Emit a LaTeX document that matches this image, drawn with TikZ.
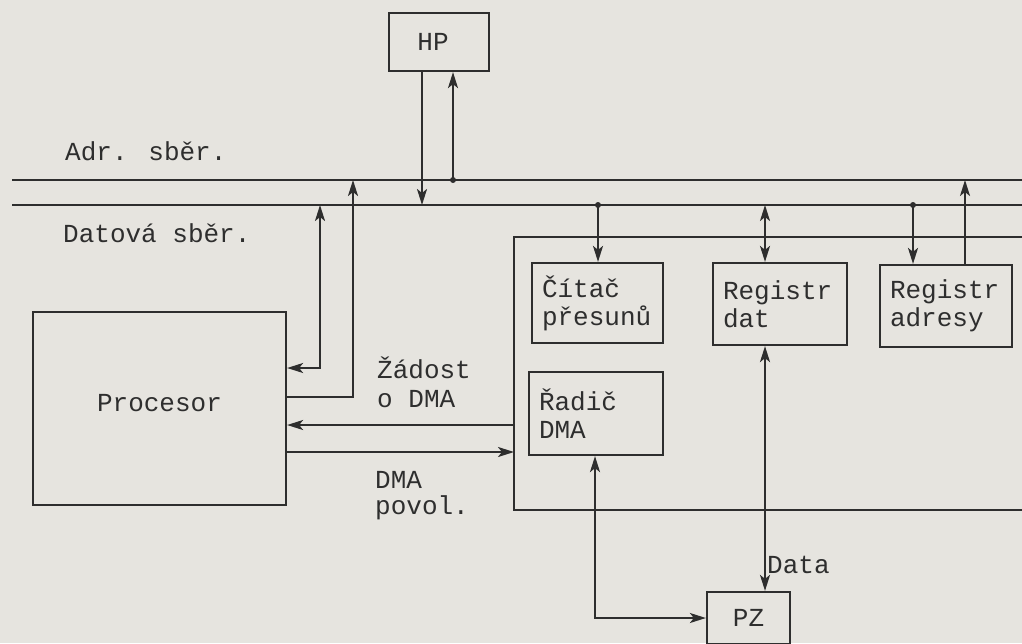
\documentclass[tikz,border=0pt]{standalone}
\usepackage{fontspec}
\setmainfont{Liberation Mono}
\usetikzlibrary{arrows.meta}
\definecolor{ink}{HTML}{2E2E2E}
\definecolor{paper}{HTML}{E6E4DF}
\begin{document}
\begin{tikzpicture}[x=1pt,y=-1pt,
  every node/.style={font=\fontsize{26}{28}\selectfont, text=ink},
  blk/.style={draw=ink, line width=2.2pt, align=left, inner xsep=10pt, inner ysep=0pt},
  wire/.style={draw=ink, line width=2.2pt},
  tip/.style={},
  arr/.style={wire, -{Stealth[length=16pt,width=10pt,inset=4pt]}},
  arrb/.style={wire, {Stealth[length=16pt,width=10pt,inset=4pt]}-{Stealth[length=16pt,width=10pt,inset=4pt]}},
  lbl/.style={anchor=base west, inner sep=0pt}
]
\fill[paper] (0,0) rectangle (1022,643);
\useasboundingbox (0,0) rectangle (1022,643);

% blocks
\node[blk, minimum width=100pt, minimum height=58pt, align=center] (hp) at (439,42) {\hspace*{-12pt}HP};
\node[blk, minimum width=253pt, minimum height=193pt, align=center] (proc) at (159.5,408.5) {\raisebox{12pt}{Procesor}};
\node[blk, minimum width=131pt, minimum height=80pt, text width=111pt] (cit) at (597.5,303) {Čítač\\přesunů};
\node[blk, minimum width=134pt, minimum height=82pt, text width=114pt] (rd) at (780,304) {Registr\\dat};
\node[blk, minimum width=132pt, minimum height=82pt, text width=112pt] (ra) at (946,306) {Registr\\adresy};
\node[blk, minimum width=134pt, minimum height=83pt, text width=114pt] (rad) at (596,413.5) {Řadič\\DMA};
\node[blk, minimum width=83pt, minimum height=52pt, align=center] (pz) at (748.5,618) {PZ};

% buses
\coordinate (abL) at (12,180);
\coordinate (abR) at (1030,180);
\coordinate (dbL) at (12,205);
\coordinate (dbR) at (1030,205);
\draw[wire] (abL) -- (abR);
\draw[wire] (dbL) -- (dbR);

% DMA unit outline (open to the right)
\draw[wire] (1030,237) -- (514,237) -- (514,510) -- (1030,510);

% bus labels
\node[lbl] (ladr) at (65,160) {Adr. sběr.};
\node[lbl] (ldat) at (63,242) {Datová sběr.};

% HP connections
\coordinate (d1) at (422,205);
\coordinate (a1) at (453,180);
\draw[arr] (d1 |- hp.south) -- (d1);
\draw[arr] (a1) -- (a1 |- hp.south);
\fill[ink] (a1) circle (3pt);

% processor connections
\coordinate (d2) at (320,205);
\coordinate (c1) at (320,368);
\draw[arrb] (d2) -- (c1) -- (c1 -| proc.east);
\coordinate (a2) at (353,180);
\coordinate (c2) at (353,397);
\draw[arr] (c2 -| proc.east) -- (c2) -- (a2);
\coordinate (r1) at (514,425);
\draw[arr] (r1) -- (r1 -| proc.east);
\coordinate (g1) at (514,452);
\draw[arr] (g1 -| proc.east) -- (g1);

\node[lbl] (lzad1) at (377,378) {Žádost};
\node[lbl] (lzad2) at (377,407) {o DMA};
\node[lbl] (lpov1) at (375,488) {DMA};
\node[lbl] (lpov2) at (375,514) {povol.};

% register connections
\coordinate (d3) at (598,205);
\draw[arr] (d3) -- (d3 |- cit.north);
\fill[ink] (d3) circle (3pt);
\coordinate (d4) at (765,205);
\draw[arrb] (d4) -- (d4 |- rd.north);
\coordinate (d5) at (913,205);
\draw[arr] (d5) -- (d5 |- ra.north);
\fill[ink] (d5) circle (3pt);
\coordinate (a3) at (965,180);
\draw[arr] (a3 |- ra.north) -- (a3);

% memory connections
\draw[arrb] (d4 |- rd.south) -- (d4 |- pz.north);
\node[lbl] (ldata) at (767,573) {Data};
\coordinate (c3) at (595,618);
\draw[arrb] (c3 |- rad.south) -- (c3) -- (c3 -| pz.west);
\end{tikzpicture}
\end{document}
